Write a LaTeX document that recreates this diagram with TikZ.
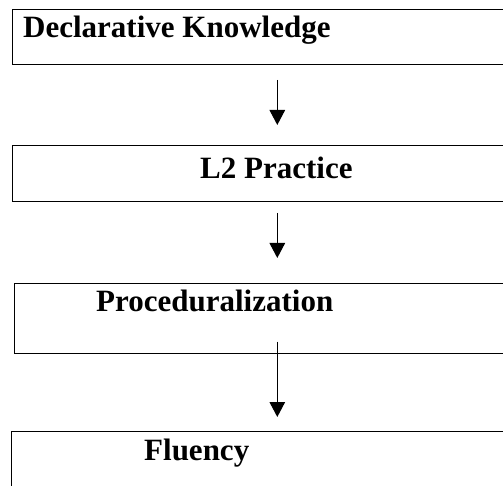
\documentclass[tikz,border=0pt]{standalone}
\usepackage{fontspec}
\setmainfont{Liberation Serif}
\usetikzlibrary{arrows.meta}
\tikzset{
  boxnode/.style={draw=black, line width=1pt, rectangle, anchor=north west, inner sep=0pt, minimum width=500pt},
  labeltext/.style={anchor=base west, inner sep=0pt, font=\fontsize{31}{36}\selectfont\bfseries},
  flow/.style={line width=1.2pt, -{Triangle[width=15.5pt,length=15pt]}}
}
\begin{document}
\begin{tikzpicture}[x=1pt,y=-1pt]
\useasboundingbox (0,0) rectangle (503,486);
\clip (0,0) rectangle (503,486);
\node[boxnode, minimum height=55pt] (b1) at (11.5,9) {};
\node[boxnode, minimum height=56pt] (b2) at (11.5,145) {};
\node[boxnode, minimum height=70.5pt] (b3) at (14,282.7) {};
\node[boxnode, minimum height=70pt] (b4) at (11,431) {};
\node[labeltext] (t1) at (23,37.3) {Declarative Knowledge};
\node[labeltext] (t2) at (200,179) {L2 Practice};
\node[labeltext] (t3) at (96,311.7) {Proceduralization};
\node[labeltext] (t4) at (144,460) {Fluency};
\coordinate (a1s) at (277.3,80);
\coordinate (a1e) at (277.3,125);
\coordinate (a2s) at (277.3,213);
\coordinate (a2e) at (277.3,258);
\coordinate (a3s) at (277.3,341.7);
\coordinate (a3e) at (277.3,417);
\draw[flow] (a1s) -- (a1e);
\draw[flow] (a2s) -- (a2e);
\draw[flow] (a3s) -- (a3e);
\end{tikzpicture}
\end{document}
